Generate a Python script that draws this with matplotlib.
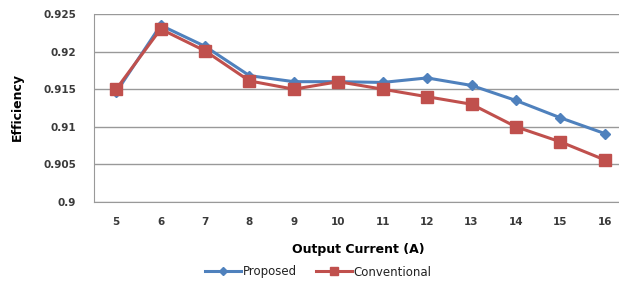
import matplotlib
matplotlib.use('Agg')
import matplotlib.pyplot as plt

currents = [5, 6, 7, 8, 9, 10, 11, 12, 13, 14, 15, 16]
proposed = [0.9146, 0.9235, 0.9207, 0.9168, 0.9160, 0.9160, 0.9159, 0.9165, 0.9155, 0.9135, 0.9112, 0.9091]
conventional = [0.9150, 0.9230, 0.9201, 0.9161, 0.9150, 0.9160, 0.9150, 0.9140, 0.9130, 0.9100, 0.9080, 0.9056]
yticks = [0.9, 0.905, 0.91, 0.915, 0.92, 0.925]
ytick_labels = ['0.9', '0.905', '0.91', '0.915', '0.92', '0.925']

plt.rcParams['font.family'] = ['DejaVu Sans']

fig = plt.figure(figsize=(6.19, 2.82), dpi=100)
# axes extends slightly past the right edge like the cropped original
ax = fig.add_axes([94 / 619, 1 - 202 / 282, 533 / 619, 188 / 282])

pos = list(range(len(currents)))
ax.plot(pos, proposed, color='#4F81BD', lw=2.2, marker='D', ms=5.5, label='Proposed', zorder=2)
ax.plot(pos, conventional, color='#C0504D', lw=2.2, marker='s', ms=8, label='Conventional', zorder=3)

ax.set_xlim(-0.5, len(currents) - 0.5)
ax.set_ylim(0.9, 0.925)
ax.set_xticks(pos)
ax.set_xticklabels([str(c) for c in currents])
ax.set_yticks(yticks)
ax.set_yticklabels(ytick_labels)
ax.tick_params(length=0, labelsize=7.5, labelcolor='#3a3a3a', pad=13)
ax.tick_params(axis='x', pad=11)
for lbl in ax.get_xticklabels() + ax.get_yticklabels():
    lbl.set_fontweight('bold')
ax.grid(axis='y', color='#999999', lw=1)
ax.set_axisbelow(True)
for s in ['top', 'right']:
    ax.spines[s].set_visible(False)
ax.spines['left'].set_color('#999999')
ax.spines['bottom'].set_color('#999999')

fig.text(17 / 619, 1 - 107 / 282, 'Efficiency', rotation=90, ha='center', va='center',
         fontsize=9, fontweight='bold')
fig.text(358 / 619, 1 - 249 / 282, 'Output Current (A)', ha='center', va='center',
         fontsize=9, fontweight='bold')

fig.legend(loc='center', bbox_to_anchor=(318 / 619, 1 - 272 / 282), ncol=2, frameon=False,
           fontsize=8.5, handlelength=3.1, columnspacing=1.6, handletextpad=0.1,
           markerscale=0.75, labelcolor='#222222')

fig.savefig('out.png', dpi=100)
